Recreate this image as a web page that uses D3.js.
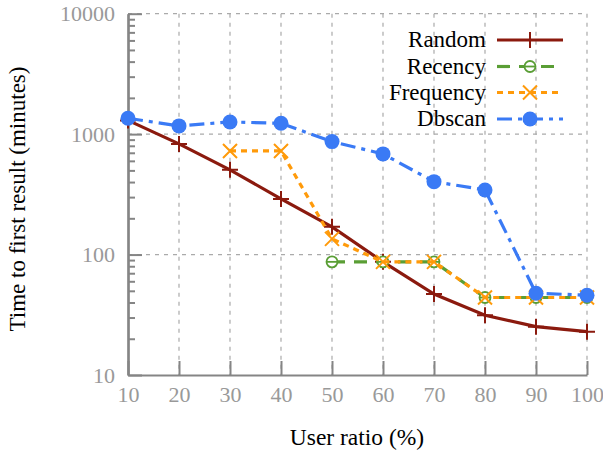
<!DOCTYPE html>
<html>
<head>
<meta charset="utf-8">
<script src="https://cdn.jsdelivr.net/npm/d3@7"></script>
<style>
  body { margin: 0; background: #fff; }
  svg { font-family: "Liberation Serif", "DejaVu Serif", serif; }
</style>
</head>
<body>
<div class="chart"></div>
<script>
// data
const userRatio = [10, 20, 30, 40, 50, 60, 70, 80, 90, 100];
const randomVals = [1300, 830, 505, 290, 170, 87, 47, 31.3, 25.2, 22.9];
const recencyVals = [null, null, null, null, 87, 87, 87, 44, 44, 44];
const frequencyVals = [null, null, 725, 725, 135, 87, 87, 44, 44, 44];
const dbscanVals = [1355, 1170, 1262, 1230, 867, 685, 403, 344, 47.7, 46];
const yMajorTicks = [10, 100, 1000, 10000];

const series = [
  { name: 'Random', values: randomVals, color: '#8b1a0e', dash: null, marker: 'plus' },
  { name: 'Recency', values: recencyVals, color: '#5a9e35', dash: '13,9', marker: 'ominus' },
  { name: 'Frequency', values: frequencyVals, color: '#ff9a0a', dash: '6,5', marker: 'cross' },
  { name: 'Dbscan', values: dbscanVals, color: '#3a7af5', dash: '15,6,4,6', marker: 'dot' }
];

const svg_width = 603, svg_height = 455;
const margin = { top: 13.7, right: 16, bottom: 80, left: 128 };
const plotW = svg_width - margin.left - margin.right;
const plotH = svg_height - margin.top - margin.bottom;

const svg = d3.select('.chart').append('svg')
  .attr('width', svg_width).attr('height', svg_height);
const g = svg.append('g').attr('transform', `translate(${margin.left},${margin.top})`);

const x = d3.scaleLinear().domain([10, 100]).range([0, plotW]);
const y = d3.scaleLog().domain([10, 10000]).range([plotH, 0]);

const minorTicks = [];
yMajorTicks.slice(0, -1).forEach(m => { for (let k = 2; k < 10; k++) minorTicks.push(m * k); });

// grid
g.append('g').selectAll('line.vg').data(userRatio.slice(1)).enter().append('line')
  .attr('x1', d => x(d)).attr('x2', d => x(d)).attr('y1', 0).attr('y2', plotH)
  .attr('stroke', '#aaa').attr('stroke-width', 1.2).attr('stroke-dasharray', '4,5');
g.append('g').selectAll('line.hg').data(yMajorTicks.slice(1)).enter().append('line')
  .attr('x1', 0).attr('x2', plotW).attr('y1', d => y(d)).attr('y2', d => y(d))
  .attr('stroke', '#aaa').attr('stroke-width', 1.2).attr('stroke-dasharray', '4,5');

// axes
const axisColor = '#858585';
const xAxis = d3.axisBottom(x).tickValues(userRatio).tickFormat(d3.format('d'))
  .tickSizeInner(-14).tickSizeOuter(0).tickPadding(11);
const xg = g.append('g').attr('transform', `translate(0,${plotH})`).call(xAxis);

const yMinor = d3.axisLeft(y).tickValues(minorTicks).tickFormat('').tickSizeInner(-7).tickSizeOuter(0);
const yg2 = g.append('g').call(yMinor);
const yAxis = d3.axisLeft(y).tickValues(yMajorTicks).tickFormat(d3.format('d'))
  .tickSizeInner(-14).tickSizeOuter(0).tickPadding(13);
const yg = g.append('g').call(yAxis);

[xg, yg, yg2].forEach(a => {
  a.select('.domain').attr('stroke', axisColor).attr('stroke-width', 2.2);
  a.selectAll('.tick line').attr('stroke', axisColor).attr('stroke-width', 2);
  a.selectAll('text').attr('fill', '#999').style('font-size', '22px')
    .style('font-family', '"Liberation Serif", serif');
});

// axis titles
svg.append('text').attr('x', 357).attr('y', 445)
  .attr('text-anchor', 'middle').style('font-size', '23.5px').text('User ratio (%)');
svg.append('text').attr('transform', 'translate(25,199) rotate(-90)')
  .attr('text-anchor', 'middle').style('font-size', '23px').text('Time to first result (minutes)');

// markers
function drawMarker(sel, s) {
  if (s.marker === 'plus') {
    sel.append('path').attr('d', 'M-8,0H8M0,-8V8').attr('stroke', s.color).attr('stroke-width', 2).attr('fill', 'none');
  } else if (s.marker === 'ominus') {
    sel.append('circle').attr('r', 5.5).attr('fill', '#fff').attr('stroke', s.color).attr('stroke-width', 1.8);
    sel.append('path').attr('d', 'M-5.5,0H5.5').attr('stroke', s.color).attr('stroke-width', 1.8);
  } else if (s.marker === 'cross') {
    sel.append('path').attr('d', 'M-7,-7L7,7M-7,7L7,-7').attr('stroke', s.color).attr('stroke-width', 2).attr('fill', 'none');
  } else {
    sel.append('circle').attr('r', 7.5).attr('fill', s.color);
  }
}

// lines
const line = d3.line().defined(d => d.v != null).x(d => x(d.x)).y(d => y(d.v));
series.forEach(s => {
  const pts = userRatio.map((u, i) => ({ x: u, v: s.values[i] }));
  g.append('path').datum(pts).attr('d', line).attr('fill', 'none')
    .attr('stroke', s.color).attr('stroke-width', 3.2)
    .attr('stroke-dasharray', s.dash);
  pts.filter(d => d.v != null).forEach(d => {
    const m = g.append('g').attr('transform', `translate(${x(d.x)},${y(d.v)})`);
    drawMarker(m, s);
  });
});

// legend
const legend = svg.append('g');
const legY = [40, 66.5, 92.5, 119];
series.forEach((s, i) => {
  const row = legend.append('g').attr('transform', `translate(0,${legY[i]})`);
  row.append('text').attr('x', 486).attr('y', 7).attr('text-anchor', 'end')
    .style('font-size', '23px').text(s.name);
  row.append('line').attr('x1', 497).attr('x2', 563).attr('y1', 0).attr('y2', 0)
    .attr('stroke', s.color).attr('stroke-width', 3.2).attr('stroke-dasharray', s.dash);
  const m = row.append('g').attr('transform', 'translate(530,0)');
  drawMarker(m, s);
});
</script>
</body>
</html>
